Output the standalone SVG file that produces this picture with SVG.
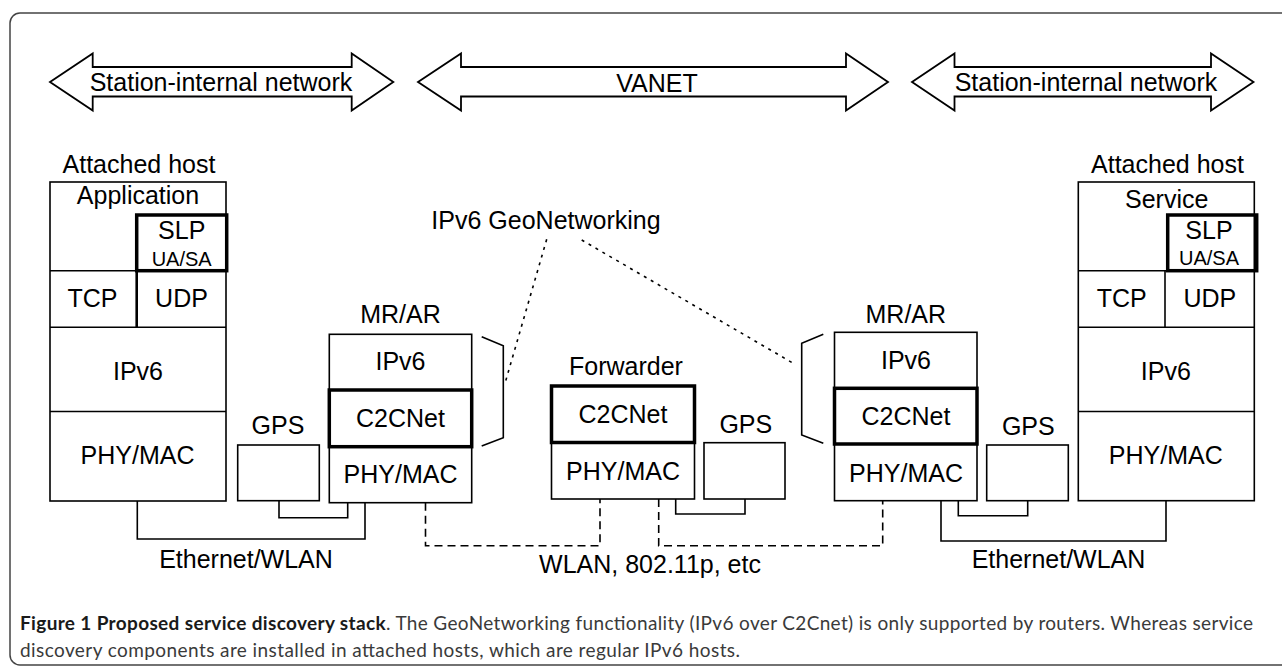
<svg xmlns="http://www.w3.org/2000/svg" width="1282" height="669" viewBox="0 0 1282 669">
<style>
  text { font-family: "Liberation Sans", Arial, sans-serif; font-size: 25px; fill: #000; }
  .mid { text-anchor: middle; }
  .small { font-size: 20px; }
  .box { fill: #fff; stroke: #000; stroke-width: 1.6; }
  .thick { fill: none; stroke: #000; stroke-width: 3.5; }
  .ln { fill: none; stroke: #000; stroke-width: 1.6; }
  .arrow { fill: #fff; stroke: #000; stroke-width: 1.8; stroke-linejoin: miter; }
  .wire { fill: none; stroke: #000; stroke-width: 1.6; }
  .wlan { fill: none; stroke: #000; stroke-width: 1.6; stroke-dasharray: 8 5; }
  .dot { fill: none; stroke: #000; stroke-width: 1.6; stroke-dasharray: 3 5; }
  .cap { font-family: Lato, "Noto Sans", sans-serif; font-size: 19px; fill: #3a3a3a; }
  .capb { font-weight: bold; fill: #1a1a1a; }
</style>

<rect x="10" y="13" width="1290" height="652" rx="10" ry="10" fill="none" stroke="#444" stroke-width="1.5"/>

<g id="arrow-station-left">
  <polygon class="arrow" points="50,82 92.7,53.5 92.7,67 351.7,67 351.7,53.5 393.3,82 351.7,110.5 351.7,96.5 92.7,96.5 92.7,110.5"/>
  <text x="221" y="90.7" class="mid">Station-internal network</text>
</g>
<g id="arrow-vanet">
  <polygon class="arrow" points="418,82 461,53.5 461,67 846,67 846,53.5 888,82 846,110.5 846,96.5 461,96.5 461,110.5"/>
  <text x="657" y="91.5" class="mid">VANET</text>
</g>
<g id="arrow-station-right">
  <polygon class="arrow" points="912,82 954.5,53.5 954.5,67 1211,67 1211,53.5 1253.5,82 1211,110.5 1211,96.5 954.5,96.5 954.5,110.5"/>
  <text x="1086" y="90.7" class="mid">Station-internal network</text>
</g>

<g id="host-left">
  <text x="139" y="172.7" class="mid">Attached host</text>
  <rect class="box" x="50" y="182" width="176" height="319"/>
  <text x="138" y="203.5" class="mid">Application</text>
  <line class="ln" x1="50" y1="270.7" x2="226" y2="270.7"/>
  <line x1="136.7" y1="270.7" x2="136.7" y2="327.3" stroke="#000" stroke-width="2.6"/>
  <line class="ln" x1="50" y1="327.3" x2="226" y2="327.3"/>
  <line class="ln" x1="50" y1="411.5" x2="226" y2="411.5"/>
  <rect class="thick" x="136.7" y="215" width="90" height="55.7"/>
  <text x="181.7" y="239" class="mid">SLP</text>
  <text x="181.7" y="266" class="mid small">UA/SA</text>
  <text x="92.5" y="306.7" class="mid">TCP</text>
  <text x="181.5" y="306.7" class="mid">UDP</text>
  <text x="138" y="380" class="mid">IPv6</text>
  <text x="137.5" y="464" class="mid">PHY/MAC</text>
</g>

<g id="gps-left">
  <text x="278" y="434" class="mid">GPS</text>
  <rect class="box" x="237.7" y="445" width="81.6" height="55.7"/>
</g>

<g id="mrar-left">
  <text x="400.5" y="323.3" class="mid">MR/AR</text>
  <rect class="box" x="329.3" y="334.3" width="142.4" height="168.4"/>
  <text x="400.5" y="370" class="mid">IPv6</text>
  <rect class="thick" x="329.3" y="390" width="142.4" height="56.7"/>
  <text x="400.5" y="426.7" class="mid">C2CNet</text>
  <text x="400.5" y="483.3" class="mid">PHY/MAC</text>
</g>

<g id="forwarder">
  <text x="626" y="375" class="mid">Forwarder</text>
  <rect class="box" x="551.5" y="386" width="143" height="113"/>
  <rect class="thick" x="551.5" y="386" width="143" height="56.5"/>
  <text x="623" y="422.7" class="mid">C2CNet</text>
  <text x="623" y="480" class="mid">PHY/MAC</text>
</g>

<g id="gps-forwarder">
  <text x="745.8" y="433.3" class="mid">GPS</text>
  <rect class="box" x="704" y="442.7" width="81" height="56.3"/>
</g>

<g id="mrar-right">
  <text x="905.8" y="322.7" class="mid">MR/AR</text>
  <rect class="box" x="834.5" y="332.3" width="142.5" height="168.4"/>
  <text x="906" y="369" class="mid">IPv6</text>
  <rect class="thick" x="834.5" y="388.3" width="142.5" height="55.7"/>
  <text x="906" y="425" class="mid">C2CNet</text>
  <text x="906" y="481.7" class="mid">PHY/MAC</text>
</g>

<g id="gps-right">
  <text x="1028.3" y="435" class="mid">GPS</text>
  <rect class="box" x="986.7" y="445" width="81.6" height="55.7"/>
</g>

<g id="host-right">
  <text x="1167.5" y="172.7" class="mid">Attached host</text>
  <rect class="box" x="1078.3" y="182" width="176" height="318.7"/>
  <text x="1166.7" y="208" class="mid">Service</text>
  <line class="ln" x1="1078.3" y1="270.7" x2="1254.3" y2="270.7"/>
  <line class="ln" x1="1165" y1="270.7" x2="1165" y2="327.3"/>
  <line class="ln" x1="1078.3" y1="327.3" x2="1254.3" y2="327.3"/>
  <line class="ln" x1="1078.3" y1="411.5" x2="1254.3" y2="411.5"/>
  <rect class="thick" x="1167.7" y="215" width="89" height="55.7"/>
  <text x="1209" y="238.5" class="mid">SLP</text>
  <text x="1209" y="265" class="mid small">UA/SA</text>
  <text x="1121.7" y="306.7" class="mid">TCP</text>
  <text x="1209.8" y="306.7" class="mid">UDP</text>
  <text x="1165.8" y="380" class="mid">IPv6</text>
  <text x="1165.8" y="464" class="mid">PHY/MAC</text>
</g>

<g id="connectors">
  <polyline class="wire" points="137.3,501 137.3,539 365,539 365,502.7"/>
  <polyline class="wire" points="279,500.7 279,517.7 347.7,517.7 347.7,502.7"/>
  <polyline class="wlan" points="425.5,502.7 425.5,545.7 600,545.7 600,499"/>
  <polyline class="wlan" points="658.7,499 658.7,545.7 882.7,545.7 882.7,500.7"/>
  <polyline class="wire" points="675.7,499 675.7,514 745,514 745,499"/>
  <polyline class="wire" points="958.3,500.7 958.3,515.7 1027.7,515.7 1027.7,500.7"/>
  <polyline class="wire" points="941,500.7 941,541 1166,541 1166,500.7"/>
  <polyline class="wire" points="481.7,336.7 503.3,345.7 503.3,437.7 481.7,446"/>
  <polyline class="wire" points="823.3,334.3 801.7,343.3 801.7,435 823.3,443.3"/>
  <line class="dot" x1="546.7" y1="239.3" x2="505" y2="383.3"/>
  <line class="dot" x1="581.7" y1="240" x2="795" y2="364.3"/>
  <text x="546" y="229" class="mid">IPv6 GeoNetworking</text>
  <text x="246" y="567.7" class="mid">Ethernet/WLAN</text>
  <text x="650" y="573.3" class="mid">WLAN, 802.11p, etc</text>
  <text x="1058.5" y="568.3" class="mid">Ethernet/WLAN</text>
</g>

<g id="caption">
  <text class="cap" x="20" y="630" textLength="1233" lengthAdjust="spacing"><tspan class="capb">Figure 1 Proposed service discovery stack</tspan>. The GeoNetworking functionality (IPv6 over C2Cnet) is only supported by routers. Whereas service</text>
  <text class="cap" x="20" y="657" textLength="720" lengthAdjust="spacing">discovery components are installed in attached hosts, which are regular IPv6 hosts.</text>
</g>
</svg>
